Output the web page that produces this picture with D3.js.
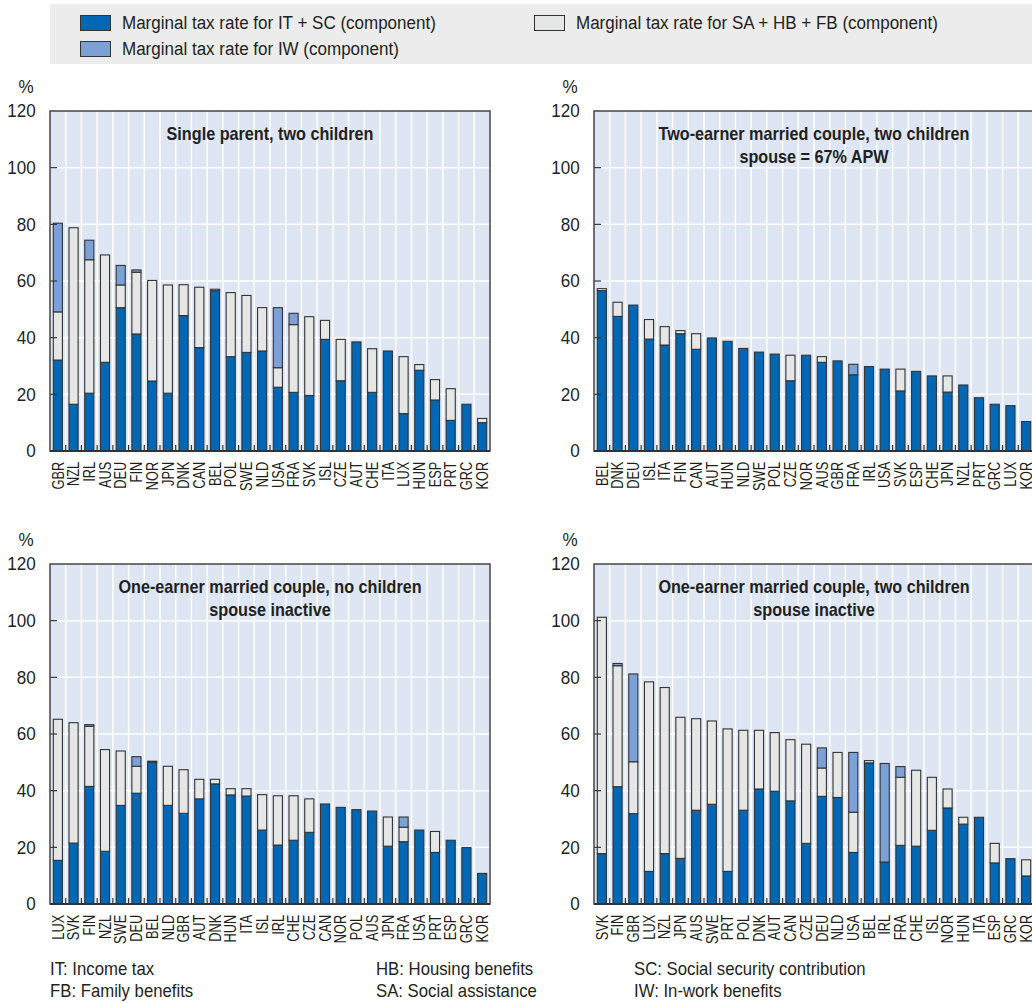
<!DOCTYPE html>
<html>
<head>
<meta charset="utf-8">
<script src="https://cdn.jsdelivr.net/npm/d3@7"></script>
<style>
  html, body { margin: 0; padding: 0; background: #fff; }
  svg { display: block; }
  text { font-family: "Liberation Sans", Arial, sans-serif; fill: #231f20; }
</style>
</head>
<body>
<svg id="chart" width="1032" height="1003"></svg>
<script>
// ---------------- DATA ----------------
const seriesNames = [
  "Marginal tax rate for IT + SC (component)",
  "Marginal tax rate for SA + HB + FB (component)",
  "Marginal tax rate for IW (component)"
];
const yTicks = [0, 20, 40, 60, 80, 100, 120];

// Panel 1: Single parent, two children
const p1Title = ["Single parent, two children"];
const p1Countries = ["GBR","NZL","IRL","AUS","DEU","FIN","NOR","JPN","DNK","CAN","BEL","POL","SWE","NLD","USA","FRA","SVK","ISL","CZE","AUT","CHE","ITA","LUX","HUN","ESP","PRT","GRC","KOR"];
const p1ITSC  = [32.1,16.5,20.4,31.3,50.6,41.3,24.7,20.4,47.8,36.5,56.6,33.3,34.8,35.3,22.5,20.7,19.6,39.4,24.8,38.5,20.7,35.3,13.2,28.5,18.0,10.8,16.5,10.0];
const p1SAHBFB= [17.0,62.3,47.1,37.9, 8.0,21.8,35.5,38.2,10.9,21.3, 0.5,22.6,20.1,15.3, 6.9,23.9,27.8, 6.7,14.6, 0.0,15.4, 0.0,20.1, 2.0, 7.2,11.2, 0.0, 1.5];
const p1IW    = [31.3, 0.0, 6.9, 0.0, 6.9, 0.8, 0.0, 0.0, 0.0, 0.0, 0.0, 0.0, 0.0, 0.0,21.2, 4.0, 0.0, 0.0, 0.0, 0.0, 0.0, 0.0, 0.0, 0.0, 0.0, 0.0, 0.0, 0.0];

// Panel 2: Two-earner married couple, two children, spouse = 67% APW
const p2Title = ["Two-earner married couple, two children", "spouse = 67% APW"];
const p2Countries = ["BEL","DNK","DEU","ISL","ITA","FIN","CAN","AUT","HUN","NLD","SWE","POL","CZE","NOR","AUS","GBR","FRA","IRL","USA","SVK","ESP","CHE","JPN","NZL","PRT","GRC","LUX","KOR"];
const p2ITSC  = [56.6,47.5,51.5,39.5,37.4,41.4,35.9,39.9,38.7,36.2,34.9,34.2,24.8,33.8,31.3,31.8,26.9,29.8,28.9,21.2,28.1,26.5,20.8,23.3,18.8,16.5,16.0,10.4];
const p2SAHBFB= [ 0.7, 5.0, 0.0, 6.9, 6.5, 1.1, 5.5, 0.0, 0.0, 0.0, 0.0, 0.0, 9.0, 0.0, 2.0, 0.0, 0.0, 0.0, 0.0, 7.7, 0.0, 0.0, 5.7, 0.0, 0.0, 0.0, 0.0, 0.0];
const p2IW    = [ 0.0, 0.0, 0.0, 0.0, 0.0, 0.0, 0.0, 0.0, 0.0, 0.0, 0.0, 0.0, 0.0, 0.0, 0.0, 0.0, 3.7, 0.0, 0.0, 0.0, 0.0, 0.0, 0.0, 0.0, 0.0, 0.0, 0.0, 0.0];

// Panel 3: One-earner married couple, no children, spouse inactive
const p3Title = ["One-earner married couple, no children", "spouse inactive"];
const p3Countries = ["LUX","SVK","FIN","NZL","SWE","DEU","BEL","NLD","GBR","AUT","DNK","HUN","ITA","ISL","IRL","CHE","CZE","CAN","NOR","POL","AUS","JPN","FRA","USA","PRT","ESP","GRC","KOR"];
const p3ITSC  = [15.4,21.5,41.5,18.6,34.8,39.1,50.1,34.8,32.0,37.1,42.4,38.5,38.1,26.1,20.8,22.5,25.3,35.3,34.1,33.3,32.8,20.4,22.0,26.1,18.2,22.5,19.9,10.8];
const p3SAHBFB= [49.8,42.5,21.2,35.9,19.2, 9.5, 0.3,13.8,15.4, 6.9, 1.6, 2.2, 2.6,12.5,17.4,15.7,11.8, 0.0, 0.0, 0.0, 0.0,10.3, 5.1, 0.0, 7.4, 0.0, 0.0, 0.0];
const p3IW    = [ 0.0, 0.0, 0.6, 0.0, 0.0, 3.4, 0.0, 0.0, 0.0, 0.0, 0.0, 0.0, 0.0, 0.0, 0.0, 0.0, 0.0, 0.0, 0.0, 0.0, 0.0, 0.0, 3.6, 0.0, 0.0, 0.0, 0.0, 0.0];

// Panel 4: One-earner married couple, two children, spouse inactive
const p4Title = ["One-earner married couple, two children", "spouse inactive"];
const p4Countries = ["SVK","FIN","GBR","LUX","NZL","JPN","AUS","SWE","PRT","POL","DNK","AUT","CAN","CZE","DEU","NLD","USA","BEL","IRL","FRA","CHE","ISL","NOR","HUN","ITA","ESP","GRC","KOR"];
const p4ITSC  = [17.8,41.4,31.9,11.5,17.8,16.1,33.1,35.2,11.5,33.1,40.6,39.8,36.4,21.4,38.0,37.6,18.2,49.8,14.8,20.7,20.4,26.0,33.9,28.2,30.6,14.5,16.0, 9.9];
const p4SAHBFB= [83.4,42.7,18.3,66.9,58.6,49.8,32.3,29.4,50.3,28.2,20.7,20.7,21.6,35.0,10.0,15.9,14.2, 0.8, 0.0,24.0,26.8,18.7, 6.7, 2.4, 0.0, 6.9, 0.0, 5.7];
const p4IW    = [ 0.0, 0.8,31.0, 0.0, 0.0, 0.0, 0.0, 0.0, 0.0, 0.0, 0.0, 0.0, 0.0, 0.0, 7.1, 0.0,21.1, 0.0,34.8, 3.8, 0.0, 0.0, 0.0, 0.0, 0.0, 0.0, 0.0, 0.0];

const footnotes = [
  {label: "IT:  Income tax", col: 0, row: 0},
  {label: "FB:  Family benefits", col: 0, row: 1},
  {label: "HB: Housing benefits", col: 1, row: 0},
  {label: "SA: Social assistance", col: 1, row: 1},
  {label: "SC: Social security contribution", col: 2, row: 0},
  {label: "IW: In-work benefits", col: 2, row: 1}
];

// ---------------- STYLE ----------------
const colBlue = "#0067b4", colGrey = "#e5e6e6", colIW = "#7ba1d6";
const plotBg = "#dee5f3", legendBg = "#ececec", stroke = "#333333";
const seriesColors = [colBlue, colGrey, colIW];

const svg = d3.select("#chart");

// condensed text helper (horizontal scale only)
function addText(parent, x, y, str, size, opts = {}) {
  const sx = opts.sx || 0.92;
  return parent.append("text")
    .attr("transform", `translate(${x},${y}) scale(${sx},1)`)
    .attr("text-anchor", opts.anchor || "start")
    .attr("font-size", size)
    .attr("font-weight", opts.weight || "normal")
    .text(str);
}

// Legend
svg.append("rect").attr("x", 50).attr("y", 4).attr("width", 990).attr("height", 60).attr("fill", legendBg);
const legendItems = [
  {name: seriesNames[0], color: colBlue, x: 80, y: 15},
  {name: seriesNames[2], color: colIW, x: 80, y: 41},
  {name: seriesNames[1], color: colGrey, x: 534, y: 15}
];
legendItems.forEach(it => {
  svg.append("rect").attr("x", it.x + 0.5).attr("y", it.y + 0.5).attr("width", 30).attr("height", 15)
    .attr("fill", it.color).attr("stroke", stroke).attr("stroke-width", 1);
  addText(svg, it.x + 42, it.y + 14, it.name, 18, {sx: 0.945});
});

const panels = [
  {title: p1Title, countries: p1Countries, vals: [p1ITSC, p1SAHBFB, p1IW], x0: 50, y0: 111},
  {title: p2Title, countries: p2Countries, vals: [p2ITSC, p2SAHBFB, p2IW], x0: 594, y0: 111},
  {title: p3Title, countries: p3Countries, vals: [p3ITSC, p3SAHBFB, p3IW], x0: 50, y0: 564},
  {title: p4Title, countries: p4Countries, vals: [p4ITSC, p4SAHBFB, p4IW], x0: 594, y0: 564}
];
const PW = 440, PH = 340;

panels.forEach(p => {
  const g = svg.append("g").attr("transform", `translate(${p.x0},${p.y0})`);
  const x = d3.scaleBand().domain(p.countries).range([0, PW]).paddingInner(0.42).paddingOuter(0.21);
  const xb = d3.scaleBand().domain(p.countries).range([0, PW]);
  const y = d3.scaleLinear().domain([0, 120]).range([PH, 0]);

  g.append("rect").attr("width", PW).attr("height", PH).attr("fill", plotBg);

  // horizontal gridlines
  g.append("g").selectAll("line").data(yTicks.slice(1, -1)).join("line")
    .attr("x1", 0).attr("x2", PW).attr("y1", d => y(d)).attr("y2", d => y(d))
    .attr("stroke", "#fff").attr("stroke-width", 1.5);
  // vertical gridlines at band boundaries
  const bounds = p.countries.slice(1).map(c => xb(c));
  g.append("g").selectAll("line").data(bounds).join("line")
    .attr("x1", d => d).attr("x2", d => d).attr("y1", 0).attr("y2", PH)
    .attr("stroke", "#fff").attr("stroke-width", 1.5);

  // stacked bars
  const rows = p.countries.map((c, i) => ({c, a: p.vals[0][i], b: p.vals[1][i], w: p.vals[2][i]}));
  const stack = d3.stack().keys(["a", "b", "w"])(rows);
  stack.forEach((layer, li) => {
    g.append("g").selectAll("rect").data(layer.filter(d => d[1] - d[0] > 0)).join("rect")
      .attr("x", d => x(d.data.c))
      .attr("width", x.bandwidth())
      .attr("y", d => y(d[1]))
      .attr("height", d => y(d[0]) - y(d[1]))
      .attr("fill", seriesColors[li])
      .attr("stroke", stroke).attr("stroke-width", 1.1);
  });

  // x tick marks (small, upward, at band boundaries)
  g.append("g").selectAll("line").data(bounds).join("line")
    .attr("x1", d => d).attr("x2", d => d).attr("y1", PH).attr("y2", PH - 6)
    .attr("stroke", stroke).attr("stroke-width", 1.2);
  // y tick marks (inward)
  g.append("g").selectAll("line").data(yTicks.slice(1, -1)).join("line")
    .attr("x1", 0).attr("x2", 7).attr("y1", d => y(d)).attr("y2", d => y(d))
    .attr("stroke", stroke).attr("stroke-width", 1.2);

  // frame
  g.append("rect").attr("width", PW).attr("height", PH).attr("fill", "none")
    .attr("stroke", "#444").attr("stroke-width", 1.5);
  g.append("line").attr("x1", 0).attr("x2", PW).attr("y1", PH).attr("y2", PH)
    .attr("stroke", stroke).attr("stroke-width", 2.2);

  // y axis labels
  const yAxis = d3.axisLeft(y).tickValues(yTicks).tickSize(0).tickPadding(15);
  const ya = g.append("g").call(yAxis);
  ya.select(".domain").remove();
  ya.selectAll("text").attr("font-size", 18).attr("fill", "#231f20")
    .attr("transform", "scale(0.95,1)")
    .style("font-family", "\"Liberation Sans\", Arial, sans-serif");
  addText(g, -24, -18, "%", 18, {anchor: "middle", sx: 0.95});

  // x labels
  const xAxis = d3.axisBottom(x).tickSize(0).tickPadding(0);
  const xa = g.append("g").attr("transform", `translate(0,${PH})`).call(xAxis);
  xa.select(".domain").remove();
  xa.selectAll("text")
    .attr("transform", "rotate(-90) scale(0.8,1)")
    .attr("x", -13.5).attr("y", 0).attr("dy", "0.36em")
    .attr("text-anchor", "end").attr("font-size", 16).attr("fill", "#231f20")
    .style("font-family", "\"Liberation Sans\", Arial, sans-serif");

  // title
  p.title.forEach((t, i) => {
    addText(g, PW / 2, 29 + i * 23, t, 18, {anchor: "middle", weight: "bold", sx: 0.9});
  });
});

// footnotes
const fnX = [50, 376, 634];
footnotes.forEach(f => {
  addText(svg, fnX[f.col], 975 + f.row * 22, f.label, 18, {sx: 0.93});
});
</script>
</body>
</html>
